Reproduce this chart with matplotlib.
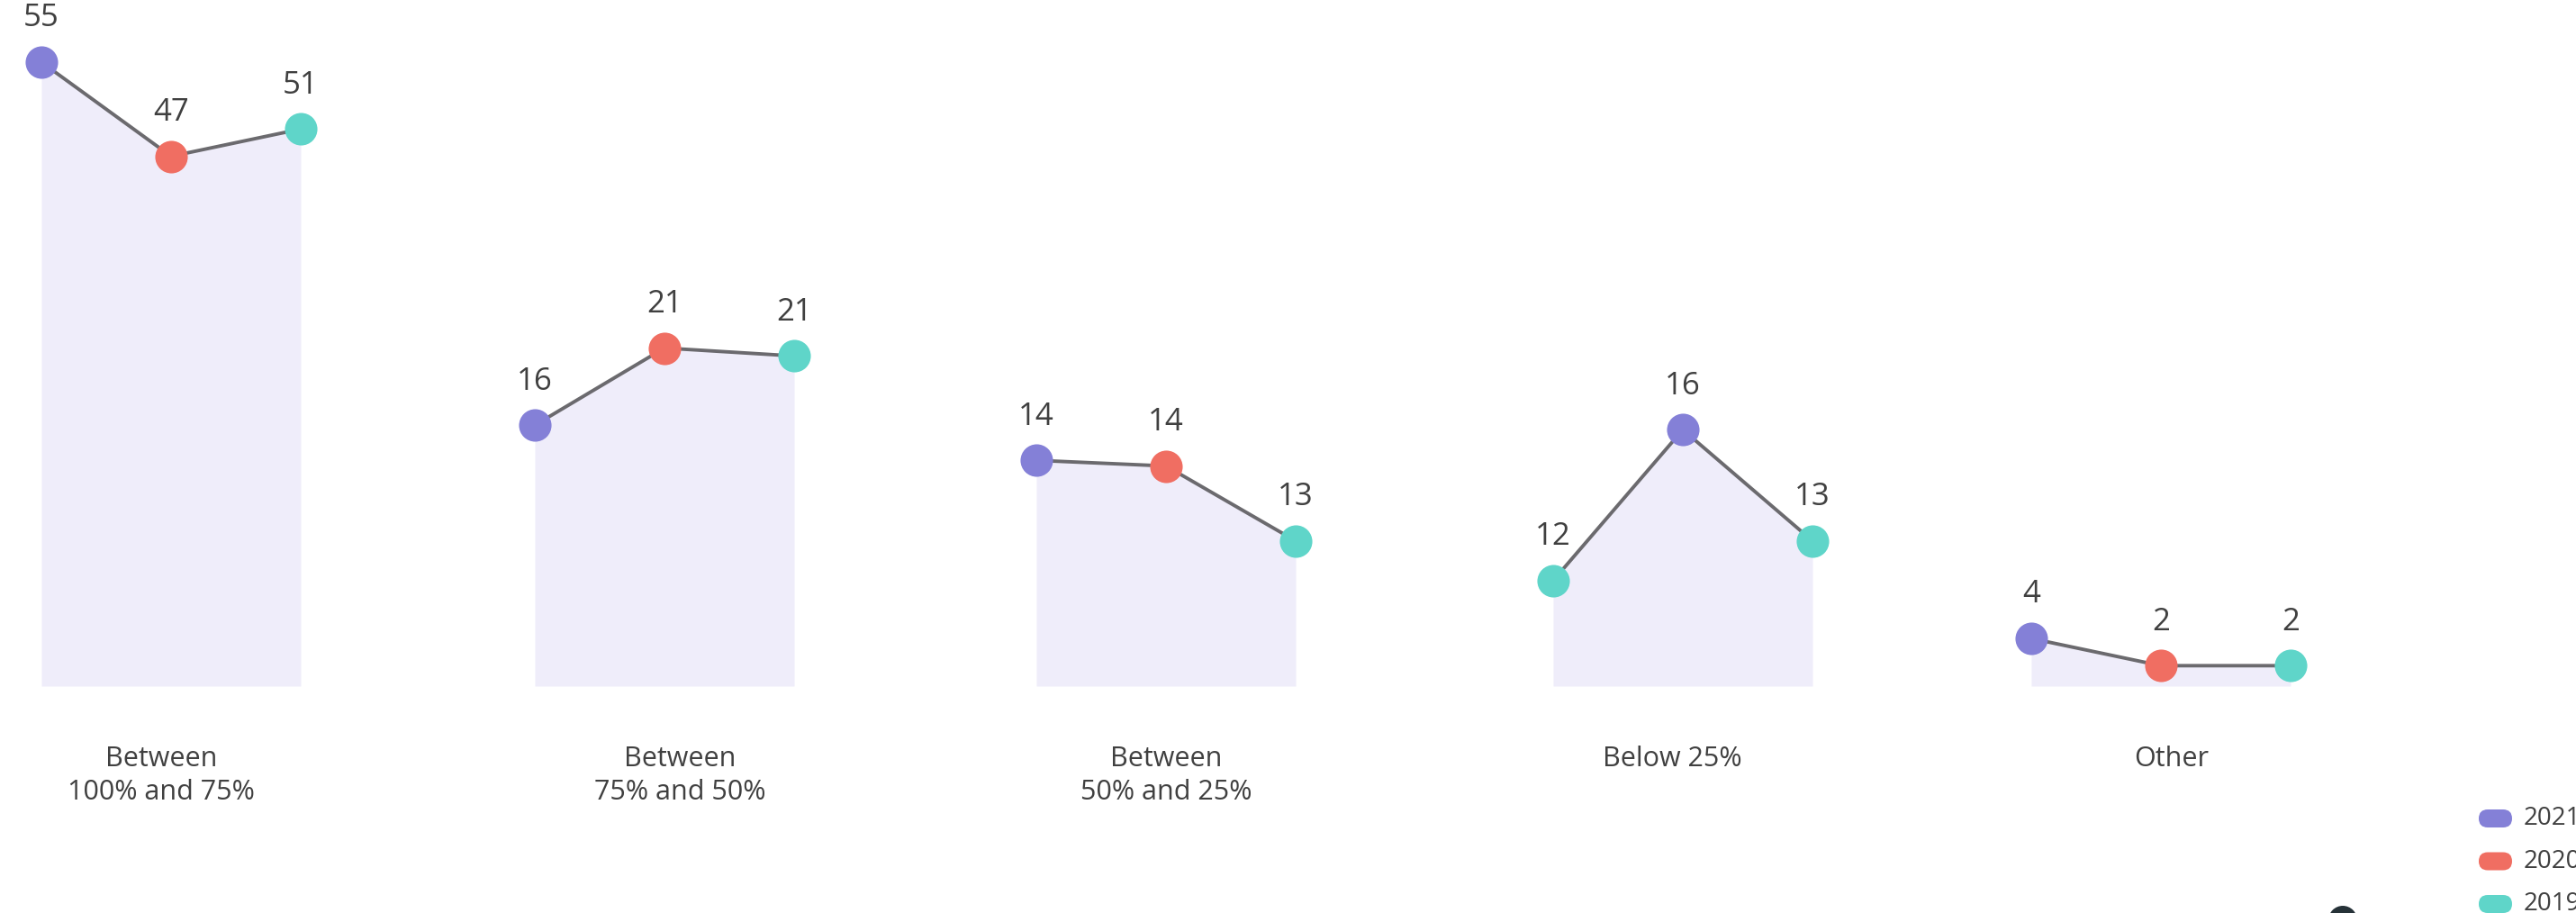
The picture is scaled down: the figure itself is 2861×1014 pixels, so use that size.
#!/usr/bin/env python3
import matplotlib
matplotlib.use("Agg")
import matplotlib.pyplot as plt
from matplotlib.patches import FancyBboxPatch, Circle

# Datos
categorias = ["Between\n100% and 75%", "Between\n75% and 50%", "Between\n50% and 25%",
              "Below 25%", "Other"]
# valores que se muestran encima de cada punto
etiquetas = [[55, 47, 51], [16, 21, 21], [14, 14, 13], [12, 16, 13], [4, 2, 2]]
# altura a la que aparece cada punto en la imagen
niveles = [[55, 46.7, 49.1], [23.0, 29.8, 29.1], [19.9, 19.4, 12.8],
           [9.3, 22.6, 12.8], [4.2, 1.8, 1.8]]
anios_puntos = [["2021", "2020", "2019"], ["2021", "2020", "2019"], ["2021", "2020", "2019"],
                ["2019", "2021", "2019"], ["2021", "2020", "2019"]]
anios_leyenda = ["2021", "2020", "2019"]

# Estilo / posiciones
colores = {"2021": "#8480d7", "2020": "#f06e62", "2019": "#5fd5c9"}
centros = [190, 738, 1295, 1869, 2400]
centros_etiq = [179, 755, 1295, 1857, 2412]
paso = 144
W, H = 2861, 1014
base_px = 762
px_por_unidad = 12.6
color_texto = "#404040"
fuente = "Open Sans"

fig = plt.figure(figsize=(W / 100, H / 100), dpi=100)
ax = fig.add_axes([0, 0, 1, 1])
ax.set_xlim(0, W)
ax.set_ylim(-(H - base_px) / px_por_unidad, base_px / px_por_unidad)
ax.axis("off")

for i, cat in enumerate(categorias):
    xs = [centros[i] + paso * k for k in (-1, 0, 1)]
    ys = niveles[i]
    ax.fill_between(xs, ys, 0, color="#efedfa", lw=0, zorder=1)
    ax.plot(xs, ys, color="#6b6a6e", lw=2.8, zorder=2)
    for x, y, a, v in zip(xs, ys, anios_puntos[i], etiquetas[i]):
        ax.scatter([x], [y], s=26 ** 2, color=colores[a], lw=0, zorder=3)
        ax.annotate(str(v), (x, y), xytext=(0, 35), textcoords="offset points",
                    ha="center", va="center", fontsize=25, color=color_texto,
                    family=fuente)

# Capa en pixeles para etiquetas, leyenda y adorno
ov = fig.add_axes([0, 0, 1, 1])
ov.set_xlim(0, W)
ov.set_ylim(H, 0)
ov.axis("off")
ov.patch.set_alpha(0)

for i, cat in enumerate(categorias):
    for k, linea in enumerate(cat.split("\n")):
        ov.text(centros_etiq[i], 843 + 37 * k, linea, ha="center", va="center",
                fontsize=22, color=color_texto, family=fuente)

# Leyenda (cortada en el borde derecho, como en el original)
for j, a in enumerate(anios_leyenda):
    yc = 909 + 47.5 * j
    ov.add_patch(FancyBboxPatch((2763, yc), 17, 0.01,
                                boxstyle="round,pad=10", color=colores[a], lw=0,
                                clip_on=False))
    ov.text(2803, yc, a, ha="left", va="center", fontsize=20, color=color_texto,
            family=fuente, clip_on=False)

ov.add_patch(Circle((2602, 1022), 16, color="#263238", lw=0))

fig.savefig("out.png", dpi=100)
